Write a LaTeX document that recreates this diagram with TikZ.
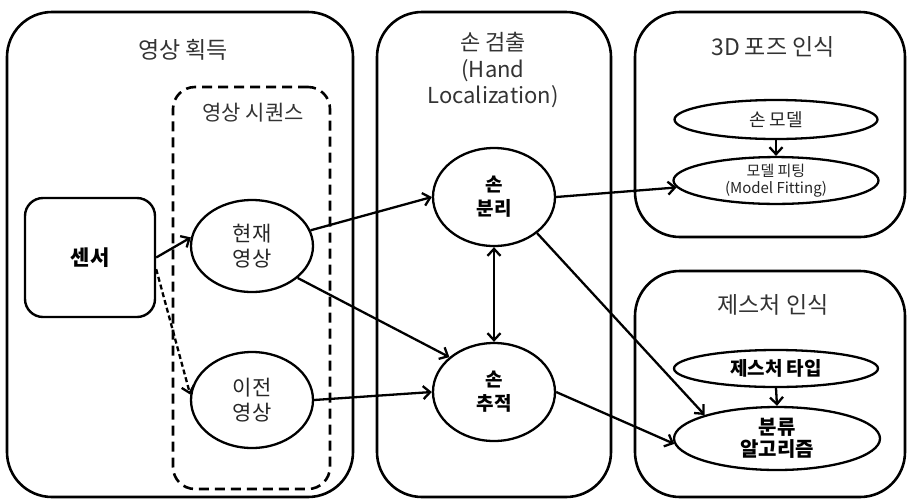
\documentclass[tikz,border=0pt]{standalone}
\usepackage{fontspec}
\setmainfont{Noto Sans CJK KR}
\usetikzlibrary{shapes.geometric,arrows.meta}
\tikzset{box/.style={draw, line width=2.6pt, rounded corners=45pt}}
\tikzset{seqbox/.style={draw, dash pattern=on 10pt off 6pt, line width=2.6pt, rounded corners=22pt}}
\tikzset{blob/.style={draw, ellipse, line width=2.3pt, inner sep=0pt, align=center, text=black!85, font=\fontsize{21}{25}\selectfont}}
\tikzset{title/.style={align=center, text=black!80, font=\fontsize{23}{27}\selectfont}}
\tikzset{edge/.style={line width=2.3pt, -{Straight Barb[length=7pt,width=13pt]}}}

\begin{document}
\begin{tikzpicture}[x=1pt, y=-1pt]
    \useasboundingbox (0,0) rectangle (908,499);

    % stage boxes
    \node[box, minimum width=346pt, minimum height=485pt] (acq) at (180,254.5) {};
    \node[box, minimum width=234pt, minimum height=485pt] (det) at (494,254.5) {};
    \node[box, minimum width=270pt, minimum height=225pt] (pose) at (770,124.5) {};
    \node[box, minimum width=270pt, minimum height=226pt] (gest) at (770,384) {};
    \node[seqbox, minimum width=157pt, minimum height=402pt] (seq) at (251.5,288) {};

    \node[title] (acqT) at (183,50) {영상 획득};
    \node[title, font=\fontsize{21}{25}\selectfont] (seqT) at (253,113) {영상 시퀀스};
    \node[title, font=\fontsize{22}{26.5}\selectfont] (detT) at (493,70) {손 검출\\(Hand\\Localization)};
    \node[title] (poseT) at (773,47) {3D 포즈 인식};
    \node[title] (gestT) at (773,305) {제스처 인식};

    \node[draw, line width=2.4pt, rounded corners=18pt, minimum width=130pt, minimum height=119pt,
        font=\fontsize{21}{25}\selectfont\bfseries] (sensor) at (90,257.5) {센서};

    \node[blob, minimum width=122pt, minimum height=92pt] (cur) at (252,246) {현재\\영상};
    \node[blob, minimum width=122pt, minimum height=96pt] (prev) at (252,400) {이전\\영상};
    \node[blob, minimum width=122pt, minimum height=98pt, text=black, font=\fontsize{19}{24}\selectfont\bfseries] (sepa) at (494,197) {손\\분리};
    \node[blob, minimum width=122pt, minimum height=98pt, text=black, font=\fontsize{19}{24}\selectfont\bfseries] (track) at (494,392) {손\\추적};

    \node[blob, minimum width=203pt, minimum height=39pt, font=\fontsize{18}{22}\selectfont] (model) at (776,119.5) {손 모델};
    \node[blob, minimum width=205pt, minimum height=45pt, font=\fontsize{15}{17}\selectfont] (fit) at (776,180.5) {모델 피팅\\(Model Fitting)};
    \node[blob, minimum width=204pt, minimum height=37pt, text=black, font=\fontsize{19}{23}\selectfont\bfseries] (gtype) at (776,368.5) {제스처 타입};
    \node[blob, minimum width=206pt, minimum height=63pt, text=black, font=\fontsize{20}{22}\selectfont\bfseries] (algo) at (777,438.5) {분류\\알고리즘};

    \draw [edge] (sensor.east) -- (cur.172);
    \draw [edge, dash pattern=on 5pt off 3pt] (sensor.-10) -- (prev.175);
    \draw [edge] (cur.15) -- (sepa.west);
    \draw [edge] (cur.-35) -- (track.142);
    \draw [edge] (prev.east) -- (track.west);
    \draw [edge, {Straight Barb[length=7pt,width=13pt]}-{Straight Barb[length=7pt,width=13pt]}] (sepa.south) -- (track.north);
    \draw [edge] (sepa.east) -- (fit.184);
    \draw [edge] (sepa.-40) -- (algo.162);
    \draw [edge] (track.east) -- (algo.183);
    \draw [edge] (model.south) -- (fit.north);
    \draw [edge] (gtype.south) -- (algo.north);
\end{tikzpicture}
\end{document}
